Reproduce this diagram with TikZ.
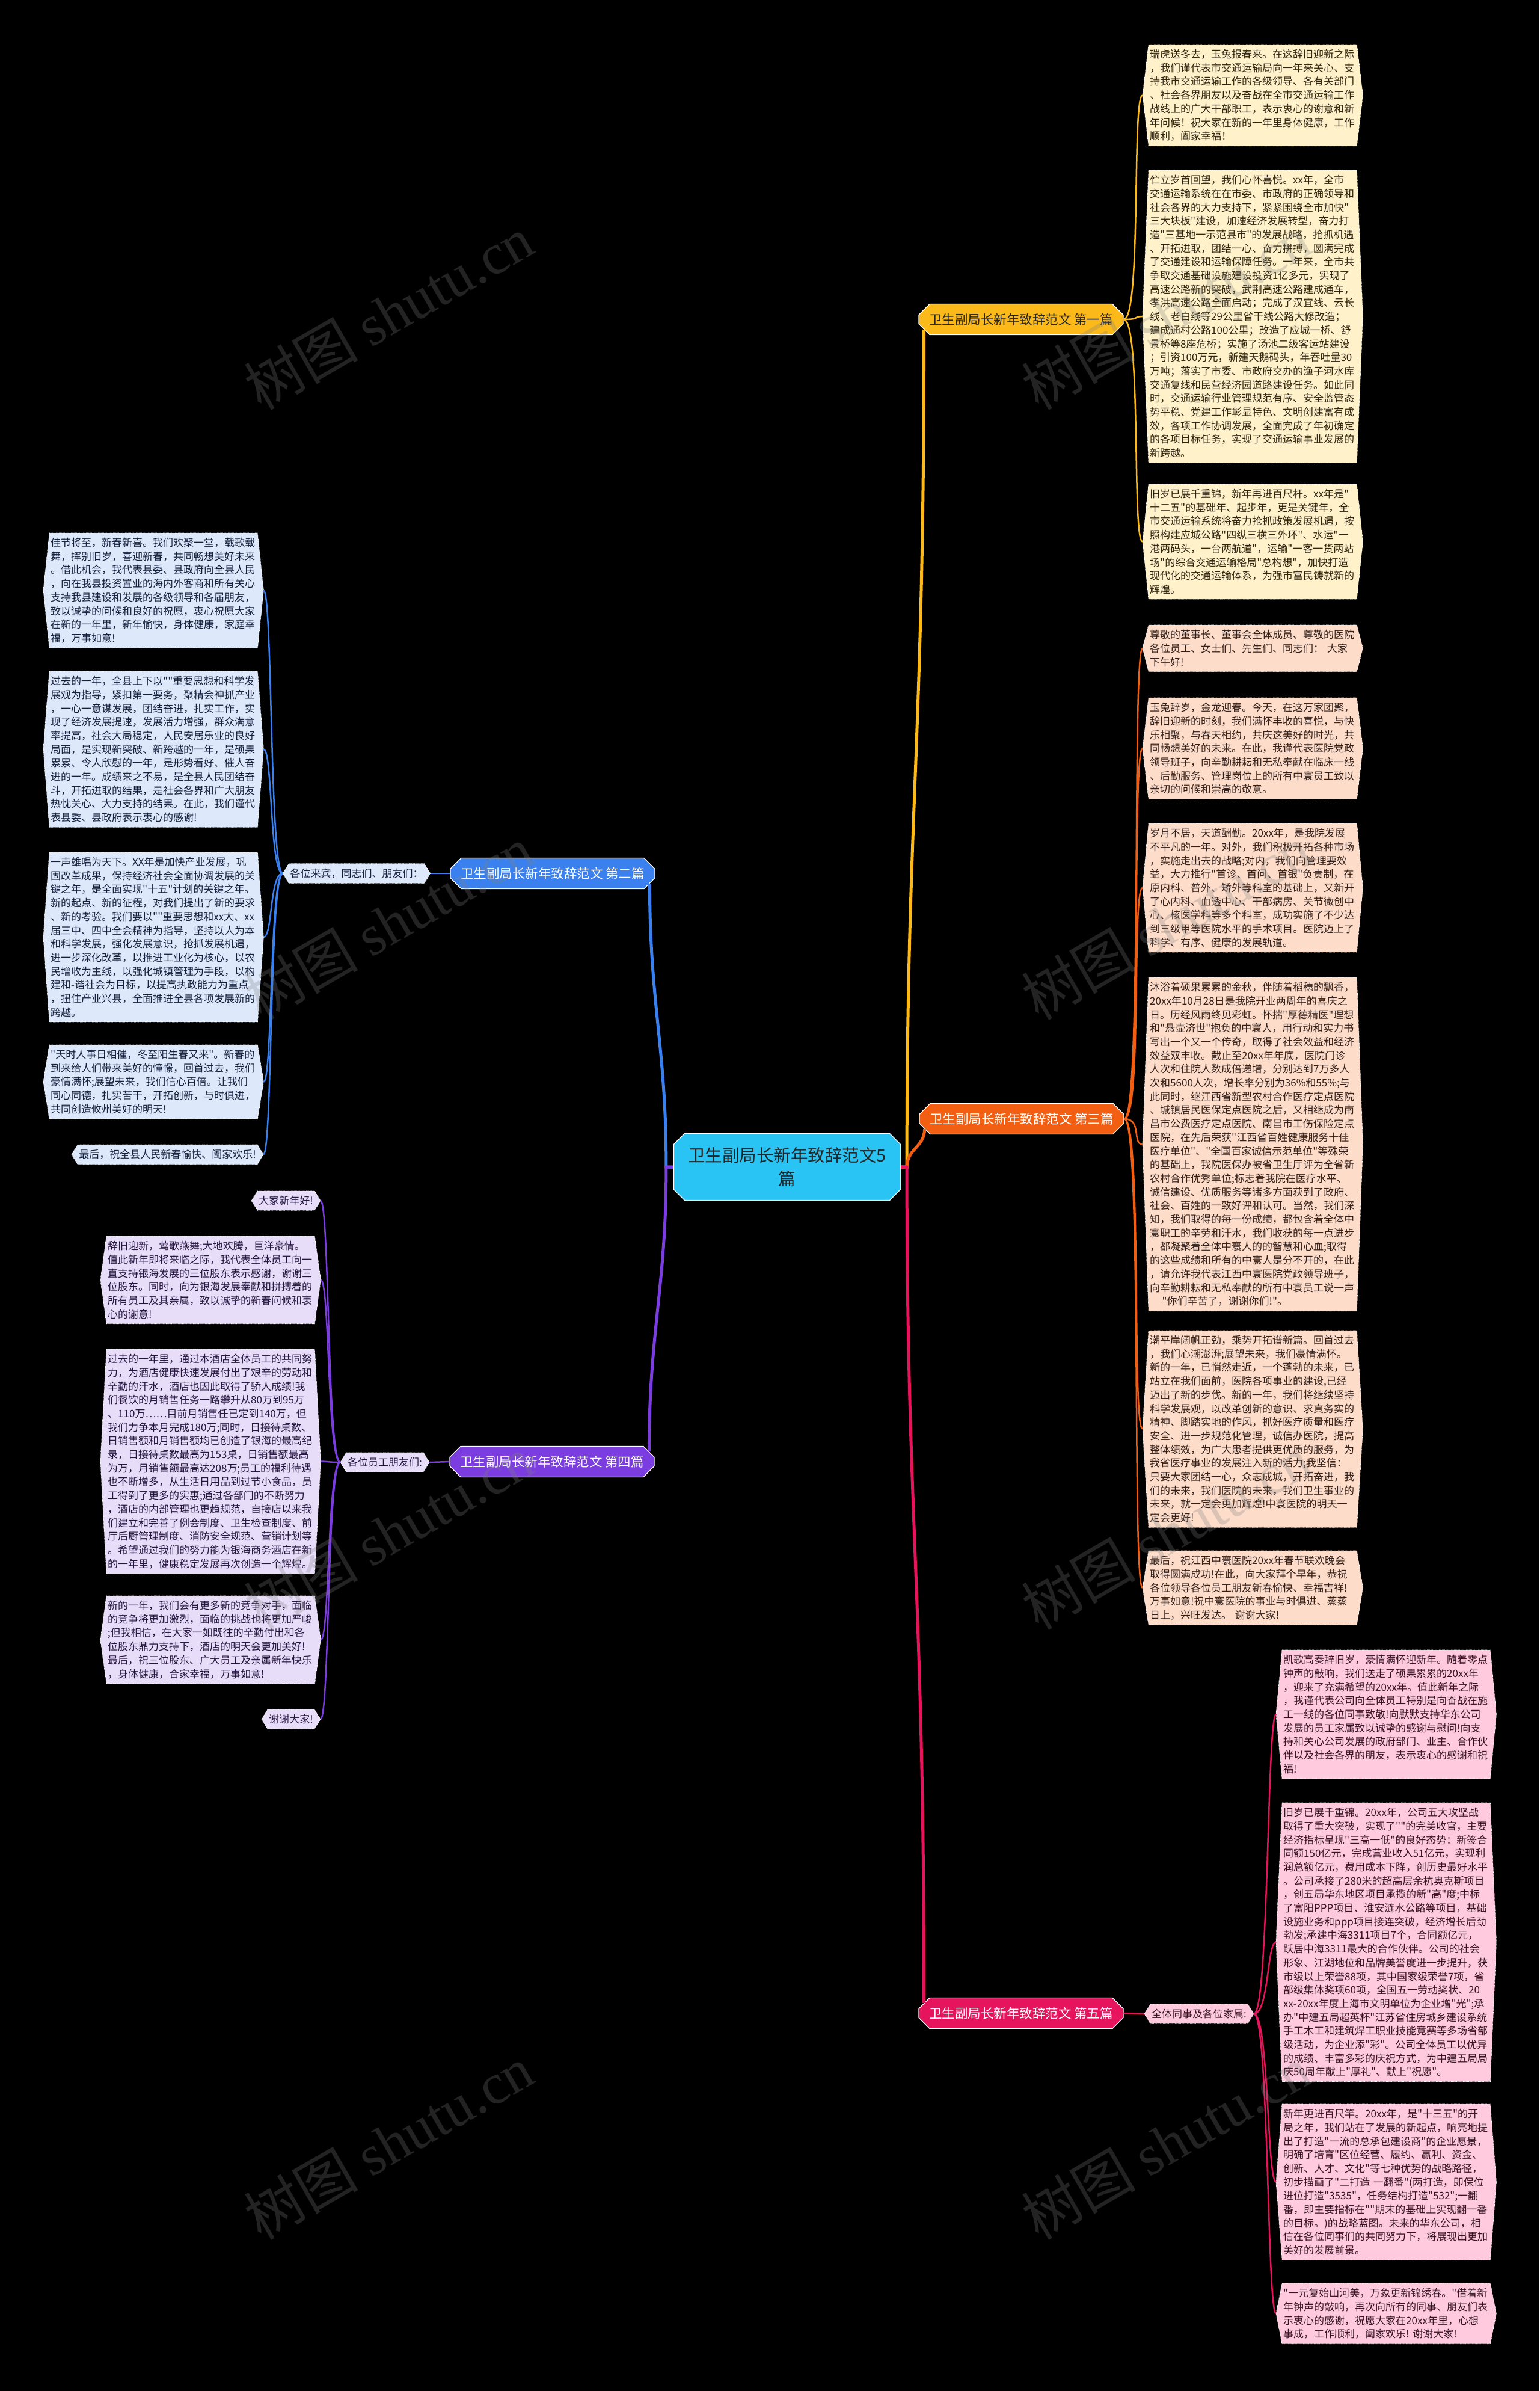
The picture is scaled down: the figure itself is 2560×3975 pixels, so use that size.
\documentclass[tikz,border=0pt]{standalone}
\usepackage{fontspec}
\newfontfamily\cjkfont{Noto Sans CJK SC}
\newfontfamily\wmfont{Liberation Serif}
\usetikzlibrary{shapes.misc,backgrounds}
\definecolor{c0}{HTML}{29C3F4}
\definecolor{c1}{HTML}{FBB91A}
\definecolor{c2}{HTML}{3A80EE}
\definecolor{c3}{HTML}{F25F12}
\definecolor{c4}{HTML}{7B3DE0}
\definecolor{c5}{HTML}{E5145C}
\definecolor{f1}{HTML}{FFF1CA}
\definecolor{f2}{HTML}{DDE8FB}
\definecolor{f3}{HTML}{FDDCC9}
\definecolor{f4}{HTML}{E8DDF9}
\definecolor{f5}{HTML}{FFC9DE}
\definecolor{t1}{HTML}{2E2410}
\definecolor{t2}{HTML}{14213D}
\definecolor{t3}{HTML}{33201A}
\definecolor{t4}{HTML}{251640}
\definecolor{t5}{HTML}{361424}
\begin{document}
\begin{tikzpicture}[x=1pt,y=-1pt,
	leaf/.style={anchor=north west,text width=342pt,align=left,inner xsep=2pt,inner ysep=8pt,font=\cjkfont\fontsize{17}{22.7}\selectfont,text=t#1},
	hex/.style={fill=f#1,draw=white,densely dotted,line width=.8pt},
	branch/.style={chamfered rectangle,chamfered rectangle xsep=9pt,chamfered rectangle ysep=9pt,draw=white,line width=1.2pt,minimum width=340pt,minimum height=51pt,font=\cjkfont\fontsize{21.5}{24}\selectfont,fill=#1,text=white},
	link/.style={line width=2.5pt,draw=#1},
	trunk/.style={line width=5pt,draw=#1},
	wmark/.style={rotate=30,text=gray,opacity=.28,font=\cjkfont\fontsize{95}{95}\selectfont}]
	
	\def\leaf#1#2#3#4#5{%
		\node[leaf=#4,#2] (#1) at (#3) {#5};
		\coordinate (#1-w) at ([xshift=-10pt]#1.west);
		\coordinate (#1-e) at ([xshift=10pt]#1.east);
		\begin{scope}[on background layer]
			\path[hex=#4] (#1.north west)--(#1.north east)--(#1-e)--(#1.south east)--(#1.south west)--(#1-w)--cycle;
		\end{scope}}
	
	\useasboundingbox (0,0) rectangle (2560,3975);
	\begin{scope}[on background layer]
		\fill[black] (0,0) rectangle (2560,3975);
	\end{scope}
	
	\node[branch=c0,minimum width=377pt,minimum height=111pt,font=\cjkfont\fontsize{28.5}{38.6}\selectfont,text=black!85,align=center] (ctr) at (1309,1940) {卫生副局长新年致辞范文5\\篇};
	\node[branch=c1,text=black!85] (b1) at (1698,531) {卫生副局长新年致辞范文 第一篇};
	\node[branch=c2] (b2) at (919,1452) {卫生副局长新年致辞范文 第二篇};
	\node[branch=c3] (b3) at (1699,1860) {卫生副局长新年致辞范文 第三篇};
	\node[branch=c4] (b4) at (918,2430) {卫生副局长新年致辞范文 第四篇};
	\node[branch=c5] (b5) at (1698,3347) {卫生副局长新年致辞范文 第五篇};
	
	\leaf{l1a}{}{1910,74}{1}{瑞虎送冬去，玉兔报春来。在这辞旧迎新之际\\，我们谨代表市交通运输局向一年来关心、支\\持我市交通运输工作的各级领导、各有关部门\\、社会各界朋友以及奋战在全市交通运输工作\\战线上的广大干部职工，表示衷心的谢意和新\\年问候！祝大家在新的一年里身体健康，工作\\顺利，阖家幸福！}
	\leaf{l1b}{}{1910,283}{1}{伫立岁首回望，我们心怀喜悦。xx年，全市\\交通运输系统在在市委、市政府的正确领导和\\社会各界的大力支持下，紧紧围绕全市加快"\\三大块板"建设，加速经济发展转型，奋力打\\造"三基地一示范县市"的发展战略，抢抓机遇\\、开拓进取，团结一心、奋力拼搏，圆满完成\\了交通建设和运输保障任务。一年来，全市共\\争取交通基础设施建设投资1亿多元，实现了\\高速公路新的突破，武荆高速公路建成通车，\\孝洪高速公路全面启动；完成了汉宜线、云长\\线、老白线等29公里省干线公路大修改造；\\建成通村公路100公里；改造了应城一桥、舒\\景桥等8座危桥；实施了汤池二级客运站建设\\；引资100万元，新建天鹅码头，年吞吐量30\\万吨；落实了市委、市政府交办的渔子河水库\\交通复线和民营经济园道路建设任务。如此同\\时，交通运输行业管理规范有序、安全监管态\\势平稳、党建工作彰显特色、文明创建富有成\\效，各项工作协调发展，全面完成了年初确定\\的各项目标任务，实现了交通运输事业发展的\\新跨越。}
	\leaf{l1c}{}{1910,805}{1}{旧岁已展千重锦，新年再进百尺杆。xx年是"\\十二五"的基础年、起步年，更是关键年，全\\市交通运输系统将奋力抢抓政策发展机遇，按\\照构建应城公路"四纵三横三外环"、水运"一\\港两码头，一台两航道"，运输"一客一货两站\\场"的综合交通运输格局"总构想"，加快打造\\现代化的交通运输体系，为强市富民铸就新的\\辉煌。}
	
	\leaf{l3a}{}{1910,1039}{3}{尊敬的董事长、董事会全体成员、尊敬的医院\\各位员工、女士们、先生们、同志们：~大家\\下午好!}
	\leaf{l3b}{}{1910,1160}{3}{玉兔辞岁，金龙迎春。今天，在这万家团聚，\\辞旧迎新的时刻，我们满怀丰收的喜悦，与快\\乐相聚，与春天相约，共庆这美好的时光，共\\同畅想美好的未来。在此，我谨代表医院党政\\领导班子，向辛勤耕耘和无私奉献在临床一线\\、后勤服务、管理岗位上的所有中寰员工致以\\亲切的问候和崇高的敬意。}
	\leaf{l3c}{}{1910,1369}{3}{岁月不居，天道酬勤。20xx年，是我院发展\\不平凡的一年。对外，我们积极开拓各种市场\\，实施走出去的战略;对内，我们向管理要效\\益，大力推行"首诊、首问、首银"负责制，在\\原内科、普外、矫外等科室的基础上，又新开\\了心内科、血透中心、干部病房、关节微创中\\心、核医学科等多个科室，成功实施了不少达\\到三级甲等医院水平的手术项目。医院迈上了\\科学、有序、健康的发展轨道。}
	\leaf{l3d}{}{1910,1625}{3}{沐浴着硕果累累的金秋，伴随着稻穗的飘香，\\20xx年10月28日是我院开业两周年的喜庆之\\日。历经风雨终见彩虹。怀揣"厚德精医"理想\\和"悬壶济世"抱负的中寰人，用行动和实力书\\写出一个又一个传奇，取得了社会效益和经济\\效益双丰收。截止至20xx年年底，医院门诊\\人次和住院人数成倍递增，分别达到7万多人\\次和5600人次，增长率分别为36\%和55\%;与\\此同时，继江西省新型农村合作医疗定点医院\\、城镇居民医保定点医院之后，又相继成为南\\昌市公费医疗定点医院、南昌市工伤保险定点\\医院，在先后荣获"江西省百姓健康服务十佳\\医疗单位"、"全国百家诚信示范单位"等殊荣\\的基础上，我院医保办被省卫生厅评为全省新\\农村合作优秀单位;标志着我院在医疗水平、\\诚信建设、优质服务等诸多方面获到了政府、\\社会、百姓的一致好评和认可。当然，我们深\\知，我们取得的每一份成绩，都包含着全体中\\寰职工的辛劳和汗水，我们收获的每一点进步\\，都凝聚着全体中寰人的的智慧和心血;取得\\的这些成绩和所有的中寰人是分不开的，在此\\，请允许我代表江西中寰医院党政领导班子，\\向辛勤耕耘和无私奉献的所有中寰员工说一声\\\hspace*{1.2em}"你们辛苦了，谢谢你们!"。}
	\leaf{l3e}{}{1910,2212}{3}{潮平岸阔帆正劲，乘势开拓谱新篇。回首过去\\，我们心潮澎湃;展望未来，我们豪情满怀。\\新的一年，已悄然走近，一个蓬勃的未来，已\\站立在我们面前，医院各项事业的建设,已经\\迈出了新的步伐。新的一年，我们将继续坚持\\科学发展观，以改革创新的意识、求真务实的\\精神、脚踏实地的作风，抓好医疗质量和医疗\\安全、进一步规范化管理，诚信办医院，提高\\整体绩效，为广大患者提供更优质的服务，为\\我省医疗事业的发展注入新的活力;我坚信：\\只要大家团结一心，众志成城，开拓奋进，我\\们的未来，我们医院的未来，我们卫生事业的\\未来，就一定会更加辉煌!中寰医院的明天一\\定会更好!}
	\leaf{l3f}{}{1910,2578}{3}{最后，祝江西中寰医院20xx年春节联欢晚会\\取得圆满成功!在此，向大家拜个早年，恭祝\\各位领导各位员工朋友新春愉快、幸福吉祥!\\万事如意!祝中寰医院的事业与时俱进、蒸蒸\\日上，兴旺发达。~谢谢大家!}
	
	\leaf{s5}{anchor=center,text width=}{1994,3348}{5}{全体同事及各位家属:}
	\leaf{l5a}{}{2132,2743}{5}{凯歌高奏辞旧岁，豪情满怀迎新年。随着零点\\钟声的敲响，我们送走了硕果累累的20xx年\\，迎来了充满希望的20xx年。值此新年之际\\，我谨代表公司向全体员工特别是向奋战在施\\工一线的各位同事致敬!向默默支持华东公司\\发展的员工家属致以诚挚的感谢与慰问!向支\\持和关心公司发展的政府部门、业主、合作伙\\伴以及社会各界的朋友，表示衷心的感谢和祝\\福!}
	\leaf{l5b}{}{2132,2997}{5}{旧岁已展千重锦。20xx年，公司五大攻坚战\\取得了重大突破，实现了""的完美收官，主要\\经济指标呈现"三高一低"的良好态势：新签合\\同额150亿元，完成营业收入51亿元，实现利\\润总额亿元，费用成本下降，创历史最好水平\\。公司承接了280米的超高层余杭奥克斯项目\\，创五局华东地区项目承揽的新"高"度;中标\\了富阳PPP项目、淮安涟水公路等项目，基础\\设施业务和ppp项目接连突破，经济增长后劲\\勃发;承建中海3311项目7个，合同额亿元，\\跃居中海3311最大的合作伙伴。公司的社会\\形象、江湖地位和品牌美誉度进一步提升，获\\市级以上荣誉88项，其中国家级荣誉7项，省\\部级集体奖项60项，全国五一劳动奖状、20\\xx-20xx年度上海市文明单位为企业增"光";承\\办"中建五局超英杯"江苏省住房城乡建设系统\\手工木工和建筑焊工职业技能竞赛等多场省部\\级活动，为企业添"彩"。公司全体员工以优异\\的成绩、丰富多彩的庆祝方式，为中建五局局\\庆50周年献上"厚礼"、献上"祝愿"。}
	\leaf{l5c}{}{2132,3498}{5}{新年更进百尺竿。20xx年，是"十三五"的开\\局之年，我们站在了发展的新起点，响亮地提\\出了打造"一流的总承包建设商"的企业愿景，\\明确了培育"区位经营、履约、赢利、资金、\\创新、人才、文化"等七种优势的战略路径，\\初步描画了"二打造~一翻番"(两打造，即保位\\进位打造"3535"，任务结构打造"532";一翻\\番，即主要指标在""期末的基础上实现翻一番\\的目标。)的战略蓝图。未来的华东公司，相\\信在各位同事们的共同努力下，将展现出更加\\美好的发展前景。}
	\leaf{l5d}{}{2132,3796}{5}{"一元复始山河美，万象更新锦绣春。"借着新\\年钟声的敲响，再次向所有的同事、朋友们表\\示衷心的感谢，祝愿大家在20xx年里，心想\\事成，工作顺利，阖家欢乐!~谢谢大家!}
	
	\leaf{s2}{anchor=center,text width=}{593,1452}{2}{各位来宾，同志们、朋友们：}
	\leaf{l2a}{}{82,886}{2}{佳节将至，新春新喜。我们欢聚一堂，载歌载\\舞，挥别旧岁，喜迎新春，共同畅想美好未来\\。借此机会，我代表县委、县政府向全县人民\\，向在我县投资置业的海内外客商和所有关心\\支持我县建设和发展的各级领导和各届朋友，\\致以诚挚的问候和良好的祝愿，衷心祝愿大家\\在新的一年里，新年愉快，身体健康，家庭幸\\福，万事如意!}
	\leaf{l2b}{}{82,1116}{2}{过去的一年，全县上下以""重要思想和科学发\\展观为指导，紧扣第一要务，聚精会神抓产业\\，一心一意谋发展，团结奋进，扎实工作，实\\现了经济发展提速，发展活力增强，群众满意\\率提高，社会大局稳定，人民安居乐业的良好\\局面，是实现新突破、新跨越的一年，是硕果\\累累、令人欣慰的一年，是形势看好、催人奋\\进的一年。成绩来之不易，是全县人民团结奋\\斗，开拓进取的结果，是社会各界和广大朋友\\热忱关心、大力支持的结果。在此，我们谨代\\表县委、县政府表示衷心的感谢!}
	\leaf{l2c}{}{82,1417}{2}{一声雄唱为天下。XX年是加快产业发展，巩\\固改革成果，保持经济社会全面协调发展的关\\键之年，是全面实现"十五"计划的关键之年。\\新的起点、新的征程，对我们提出了新的要求\\、新的考验。我们要以""重要思想和xx大、xx\\届三中、四中全会精神为指导，坚持以人为本\\和科学发展，强化发展意识，抢抓发展机遇，\\进一步深化改革，以推进工业化为核心，以农\\民增收为主线，以强化城镇管理为手段，以构\\建和-谐社会为目标，以提高执政能力为重点\\，扭住产业兴县，全面推进全县各项发展新的\\跨越。}
	\leaf{l2d}{}{82,1737}{2}{"天时人事日相催，冬至阳生春又来"。新春的\\到来给人们带来美好的憧憬，回首过去，我们\\豪情满怀;展望未来，我们信心百倍。让我们\\同心同德，扎实苦干，开拓创新，与时俱进，\\共同创造攸州美好的明天!}
	\leaf{l2e}{anchor=north east,text width=}{428,1903}{2}{最后，祝全县人民新春愉快、阖家欢乐!}
	
	\leaf{s4}{anchor=center,text width=}{640,2431}{4}{各位员工朋友们:}
	\leaf{l4a}{anchor=north east,text width=}{523,1980}{4}{大家新年好!}
	\leaf{l4b}{}{177,2055}{4}{辞旧迎新，莺歌燕舞;大地欢腾，巨洋豪情。\\值此新年即将来临之际，我代表全体员工向一\\直支持银海发展的三位股东表示感谢，谢谢三\\位股东。同时，向为银海发展奉献和拼搏着的\\所有员工及其亲属，致以诚挚的新春问候和衷\\心的谢意!}
	\leaf{l4c}{}{177,2243}{4}{过去的一年里，通过本酒店全体员工的共同努\\力，为酒店健康快速发展付出了艰辛的劳动和\\辛勤的汗水，酒店也因此取得了骄人成绩!我\\们餐饮的月销售任务一路攀升从80万到95万\\、110万……目前月销售任已定到140万，但\\我们力争本月完成180万;同时，日接待桌数、\\日销售额和月销售额均已创造了银海的最高纪\\录，日接待桌数最高为153桌，日销售额最高\\为万，月销售额最高达208万;员工的福利待遇\\也不断增多，从生活日用品到过节小食品，员\\工得到了更多的实惠;通过各部门的不断努力\\，酒店的内部管理也更趋规范，自接店以来我\\们建立和完善了例会制度、卫生检查制度、前\\厅后厨管理制度、消防安全规范、营销计划等\\。希望通过我们的努力能为银海商务酒店在新\\的一年里，健康稳定发展再次创造一个辉煌。}
	\leaf{l4d}{}{177,2653}{4}{新的一年，我们会有更多新的竞争对手，面临\\的竞争将更加激烈，面临的挑战也将更加严峻\\;但我相信，在大家一如既往的辛勤付出和各\\位股东鼎力支持下，酒店的明天会更加美好!\\最后，祝三位股东、广大员工及亲属新年快乐\\，身体健康，合家幸福，万事如意!}
	\leaf{l4e}{anchor=north east,text width=}{523,2842}{4}{谢谢大家!}
	
	\coordinate (hubR) at ([xshift=10pt]ctr.east);
	\coordinate (hubL) at ([xshift=-12pt]ctr.west);
	\draw[trunk=c1] (ctr.east)--(hubR) .. controls +(0,-600) and +(0,700) .. (b1.south west);
	\draw[trunk=c3] (ctr.east)--(hubR) .. controls +(0,-30) and +(0,30) .. (b3.south west);
	\draw[trunk=c5] (ctr.east)--(hubR) .. controls +(0,600) and +(0,-700) .. (b5.north west);
	\draw[trunk=c2] (ctr.west)--(hubL) .. controls +(0,-200) and +(0,200) .. (b2.south east);
	\draw[trunk=c4] (ctr.west)--(hubL) .. controls +(0,200) and +(0,-200) .. (b4.north east);
	
	\foreach \n in {l1a,l1b,l1c} \draw[link=c1] (b1.east) .. controls +(30,0) and +(-18,0) .. (\n-w);
	\foreach \n in {l3a,l3b,l3c,l3d,l3e,l3f} \draw[link=c3] (b3.east) .. controls +(30,0) and +(-18,0) .. (\n-w);
	\draw[link=c5] (b5.east)--(s5-w);
	\foreach \n in {l5a,l5b,l5c,l5d} \draw[link=c5] (s5-e) .. controls +(25,0) and +(-15,0) .. (\n-w);
	\draw[link=c2] (b2.west)--(s2-e);
	\foreach \n in {l2a,l2b,l2c,l2d,l2e} \draw[link=c2] (s2-w) .. controls +(-22,0) and +(15,0) .. (\n-e);
	\draw[link=c4] (b4.west)--(s4-e);
	\foreach \n in {l4a,l4b,l4c,l4d,l4e} \draw[link=c4] (s4-w) .. controls +(-22,0) and +(15,0) .. (\n-e);
	
	\foreach \x in {646,1939} \foreach \y in {520,1534,2548,3562}
		\node[wmark] (wm\x\y) at (\x,\y) {树图 {\wmfont shutu.cn}};
	
\end{tikzpicture}
\end{document}
